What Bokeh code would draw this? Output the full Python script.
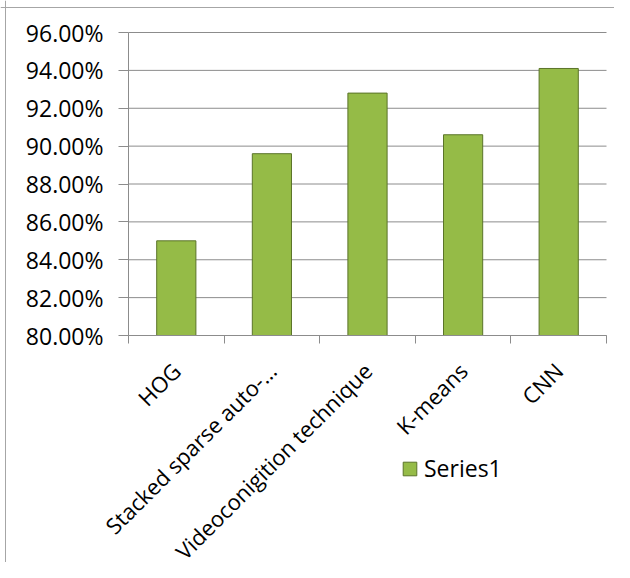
import numpy as np
from bokeh.plotting import figure
from bokeh.models import (Range1d, FixedTicker, NumeralTickFormatter, ColumnDataSource,
                          Legend, LegendItem, Span)
from bokeh.embed import file_html
from bokeh.resources import INLINE

categories = ["HOG", "Stacked sparse auto-…", "Videoconigition technique", "K-means", "CNN"]
accuracy = [0.850, 0.896, 0.928, 0.906, 0.941]
y_ticks = [0.80, 0.82, 0.84, 0.86, 0.88, 0.90, 0.92, 0.94, 0.96]
series_name = "Series1"

FONT = "Open Sans"
FS = "22px"
GRID = "#8c8c8c"
BORDER = "#a6a6a6"

# layout (canvas pixels)
W, H = 614, 562
AX_LEFT = 128           # canvas x of the value axis
AX_TOP = 32             # canvas y of the top value tick
AX_H = 303              # pixel height of the value span
CAT_W = 95.6            # pixel width of one category
BORDER_X, BORDER_Y = 5, 7
y_span = y_ticks[-1] - y_ticks[0]
px_per_val = AX_H / y_span
y_high = y_ticks[-1] + AX_TOP / px_per_val
y_low = y_ticks[0] - (H - AX_TOP - AX_H) / px_per_val
n = len(categories)
x_low = -AX_LEFT / CAT_W
x_high = x_low + W / CAT_W
bx = x_low + BORDER_X / CAT_W
by = y_high - BORDER_Y / px_per_val

positions = [i + 0.5 for i in range(n)]
boundaries = list(range(n + 1))

src = ColumnDataSource(dict(x=positions, top=accuracy, cat=categories))

p = figure(width=W, height=H, output_backend="svg", toolbar_location=None,
           x_range=Range1d(x_low, x_high), y_range=Range1d(y_low, y_high),
           min_border=0, min_border_left=0, min_border_right=0,
           min_border_top=0, min_border_bottom=0)
p.outline_line_color = None
p.background_fill_color = "white"
p.border_fill_color = "white"
p.xgrid.visible = False
p.ygrid.visible = False

# chart-area border (only its left and top edges fall inside the picture)
p.add_layout(Span(location=bx, dimension="height", line_color=BORDER, line_width=1))
p.add_layout(Span(location=by, dimension="width", line_color=BORDER, line_width=1))

# horizontal gridlines at the value ticks, across the category span
p.segment(x0=boundaries[0], x1=boundaries[-1], y0=y_ticks, y1=y_ticks,
          line_color=GRID, line_width=1)

bars = p.vbar(x="x", top="top", bottom=y_ticks[0], width=0.41, source=src,
              fill_color="#95bb47", line_color="#5b7429", line_width=1)

# x axis: drawn at 80%, labels at category centres, tick marks between categories
xa = p.xaxis[0]
xa.fixed_location = y_ticks[0]
xa.bounds = (boundaries[0], boundaries[-1])
xa.ticker = FixedTicker(ticks=positions, minor_ticks=boundaries)
xa.major_label_overrides = {x: cat for x, cat in zip(positions, categories)}
xa.major_label_orientation = np.pi / 4
xa.major_tick_out = 0
xa.major_tick_in = 0
xa.minor_tick_out = 8
xa.minor_tick_in = 0
xa.minor_tick_line_color = GRID
xa.axis_line_color = GRID
xa.major_label_text_font = FONT
xa.major_label_text_font_size = FS
xa.major_label_text_color = "black"
xa.major_label_standoff = 23

ya = p.yaxis[0]
ya.fixed_location = boundaries[0]
ya.bounds = (y_ticks[0], y_ticks[-1])
ya.ticker = FixedTicker(ticks=y_ticks)
ya.formatter = NumeralTickFormatter(format="0.00%")
ya.major_tick_out = 10
ya.major_tick_in = 0
ya.minor_tick_out = 0
ya.minor_tick_in = 0
ya.major_tick_line_color = GRID
ya.axis_line_color = GRID
ya.major_label_text_font = FONT
ya.major_label_text_font_size = "23px"
ya.major_label_text_color = "black"
ya.major_label_standoff = 15

legend = Legend(items=[LegendItem(label=series_name, renderers=[bars])],
                location=(401, 78), orientation="vertical",
                glyph_width=17, glyph_height=17, label_standoff=6,
                padding=0, margin=0, spacing=0,
                border_line_color=None, background_fill_alpha=0,
                label_text_font=FONT, label_text_font_size="23px", label_text_color="black")
p.add_layout(legend, "center")

open("out.html", "w").write(file_html(p, INLINE))
